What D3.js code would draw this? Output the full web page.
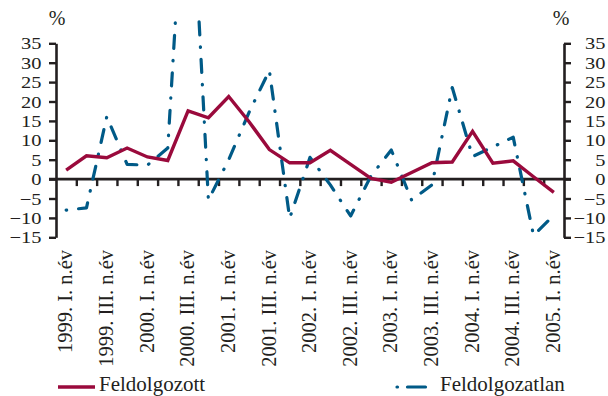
<!DOCTYPE html>
<html>
<head>
<meta charset="utf-8">
<script src="https://cdn.jsdelivr.net/npm/d3@7"></script>
<style>
  html, body { margin: 0; padding: 0; background: #fff; }
  svg { display: block; font-family: "Liberation Serif", "Times New Roman", serif; }
</style>
</head>
<body>
<svg id="chart" width="608" height="396"></svg>
<script>
// Quarterly periods, 1999 Q1 – 2005 Q1
const quarters = [
  "1999. I. n.év", "1999. II. n.év", "1999. III. n.év", "1999. IV. n.év",
  "2000. I. n.év", "2000. II. n.év", "2000. III. n.év", "2000. IV. n.év",
  "2001. I. n.év", "2001. II. n.év", "2001. III. n.év", "2001. IV. n.év",
  "2002. I. n.év", "2002. II. n.év", "2002. III. n.év", "2002. IV. n.év",
  "2003. I. n.év", "2003. II. n.év", "2003. III. n.év", "2003. IV. n.év",
  "2004. I. n.év", "2004. II. n.év", "2004. III. n.év", "2004. IV. n.év",
  "2005. I. n.év"
];

// Annual change, %
const feldolgozott = [
  2.3, 6.0, 5.5, 8.0, 5.7, 4.8, 17.6, 15.8, 21.3, 14.8, 7.6, 4.2, 4.2,
  7.4, 3.8, 0.2, -0.8, 1.7, 4.2, 4.4, 12.3, 4.1, 4.7, 0.6, -3.4
];
const feldolgozatlan = [
  -8.0, -7.4, 16.1, 3.8, 3.6, 8.0, 95.0, -5.4, 5.0, 17.2, 28.0, -10.1, 5.6,
  -1.5, -9.5, 0.8, 7.5, -5.4, -1.5, 23.6, 5.8, 8.3, 10.8, -14.5, -9.3
];

const yTicks = [-15, -10, -5, 0, 5, 10, 15, 20, 25, 30, 35];
const labelledQuarters = quarters.filter((q, i) => i % 2 === 0);

const seriesNames = ["Feldolgozott", "Feldolgozatlan"];
const colors = { red: "#9a0a3c", blue: "#005a87", axis: "#231f20" };

const svg = d3.select("#chart");
const plotLeft = 56, plotRight = 564, plotTop = 43.3, plotBottom = 237.3;

const x = d3.scaleBand().domain(quarters).range([plotLeft, plotRight]).padding(0);
const xEdge = d3.scaleLinear().domain([0, quarters.length]).range([plotLeft, plotRight]);
const y = d3.scaleLinear().domain([-15, 35]).range([plotBottom, plotTop]);
const cx = q => x(q) + x.bandwidth() / 2;

// clip for the plotting region (the large spike runs off the top)
svg.append("defs").append("clipPath").attr("id", "plotClip")
  .append("rect").attr("x", plotLeft - 10).attr("y", 13)
  .attr("width", plotRight - plotLeft + 20).attr("height", 396 - 13);

// left axis
const yLeft = svg.append("g").attr("transform", `translate(${plotLeft},0)`)
  .call(d3.axisLeft(y).tickValues(yTicks).tickSize(7).tickSizeOuter(0).tickPadding(7));
// right axis
const yRight = svg.append("g").attr("transform", `translate(${plotRight},0)`)
  .call(d3.axisRight(y).tickValues(yTicks).tickSize(7).tickSizeOuter(0).tickPadding(7));

[yLeft, yRight].forEach(g => {
  g.select(".domain").attr("stroke", colors.axis).attr("stroke-width", 2.6);
  g.selectAll(".tick line").attr("stroke", colors.axis).attr("stroke-width", 2.4);
  g.selectAll("text").attr("font-size", 16.5).attr("fill", "#231f20")
    .attr("font-family", "Liberation Serif, serif").attr("dy", "0.34em");
});
// tall-narrow numerals are widened slightly
yLeft.selectAll("text").attr("x", 0).attr("text-anchor", "end")
  .attr("transform", "translate(-14.5,0) scale(1.24,1)");
yRight.selectAll("text").attr("x", 0).attr("text-anchor", "end")
  .attr("transform", "translate(41.5,0) scale(1.24,1)");

// zero line with quarter boundary ticks
const xAxis = svg.append("g").attr("transform", `translate(0,${y(0)})`)
  .call(d3.axisBottom(xEdge).tickValues(d3.range(1, quarters.length)).tickSize(7)
    .tickSizeOuter(0).tickFormat(""));
xAxis.select(".domain").attr("stroke", colors.axis).attr("stroke-width", 2.6)
  .attr("d", `M${plotLeft - 7},0H${plotRight + 7}`);
xAxis.selectAll(".tick line").attr("stroke", colors.axis).attr("stroke-width", 2.4);

// rotated period labels
const xLabels = svg.append("g").attr("transform", "translate(0,250)")
  .call(d3.axisBottom(x).tickValues(labelledQuarters).tickSize(0).tickPadding(0));
xLabels.select(".domain").remove();
xLabels.selectAll("text")
  .attr("font-size", 20.5).attr("fill", "#231f20")
  .attr("font-family", "Liberation Serif, serif")
  .attr("text-anchor", "end")
  .attr("transform", "rotate(-90)")
  .attr("x", 0).attr("y", 0).attr("dy", "0.3em");

// unit labels
svg.append("text").attr("x", plotLeft + 1).attr("y", 25).attr("text-anchor", "middle")
  .attr("font-size", 20).attr("fill", "#231f20").text("%");
svg.append("text").attr("x", plotRight - 3).attr("y", 25).attr("text-anchor", "middle")
  .attr("font-size", 20).attr("fill", "#231f20").text("%");

const line = d3.line().x((d, i) => cx(quarters[i])).y(d => y(d));

const plot = svg.append("g").attr("clip-path", "url(#plotClip)");
plot.append("path").datum(feldolgozatlan)
  .attr("fill", "none").attr("stroke", colors.blue).attr("stroke-width", 3.2)
  .attr("stroke-linecap", "round").attr("stroke-linejoin", "round")
  .attr("stroke-dasharray", "0.5,12,13,12")
  .attr("d", line);
plot.append("path").datum(feldolgozott)
  .attr("fill", "none").attr("stroke", colors.red).attr("stroke-width", 3.4)
  .attr("stroke-linejoin", "miter")
  .attr("d", line);

// legend
const legend = svg.append("g").attr("font-size", 21).attr("fill", "#231f20");
legend.append("line").attr("x1", 58).attr("x2", 95).attr("y1", 387).attr("y2", 387)
  .attr("stroke", colors.red).attr("stroke-width", 3.4);
legend.append("text").attr("x", 99).attr("y", 391).text(seriesNames[0]);
legend.append("line").attr("x1", 397).attr("x2", 427).attr("y1", 387).attr("y2", 387)
  .attr("stroke", colors.blue).attr("stroke-width", 3.2).attr("stroke-linecap", "round")
  .attr("stroke-dasharray", "0.5,10,18,20");
legend.append("text").attr("x", 440).attr("y", 391).text(seriesNames[1]);
</script>
</body>
</html>
